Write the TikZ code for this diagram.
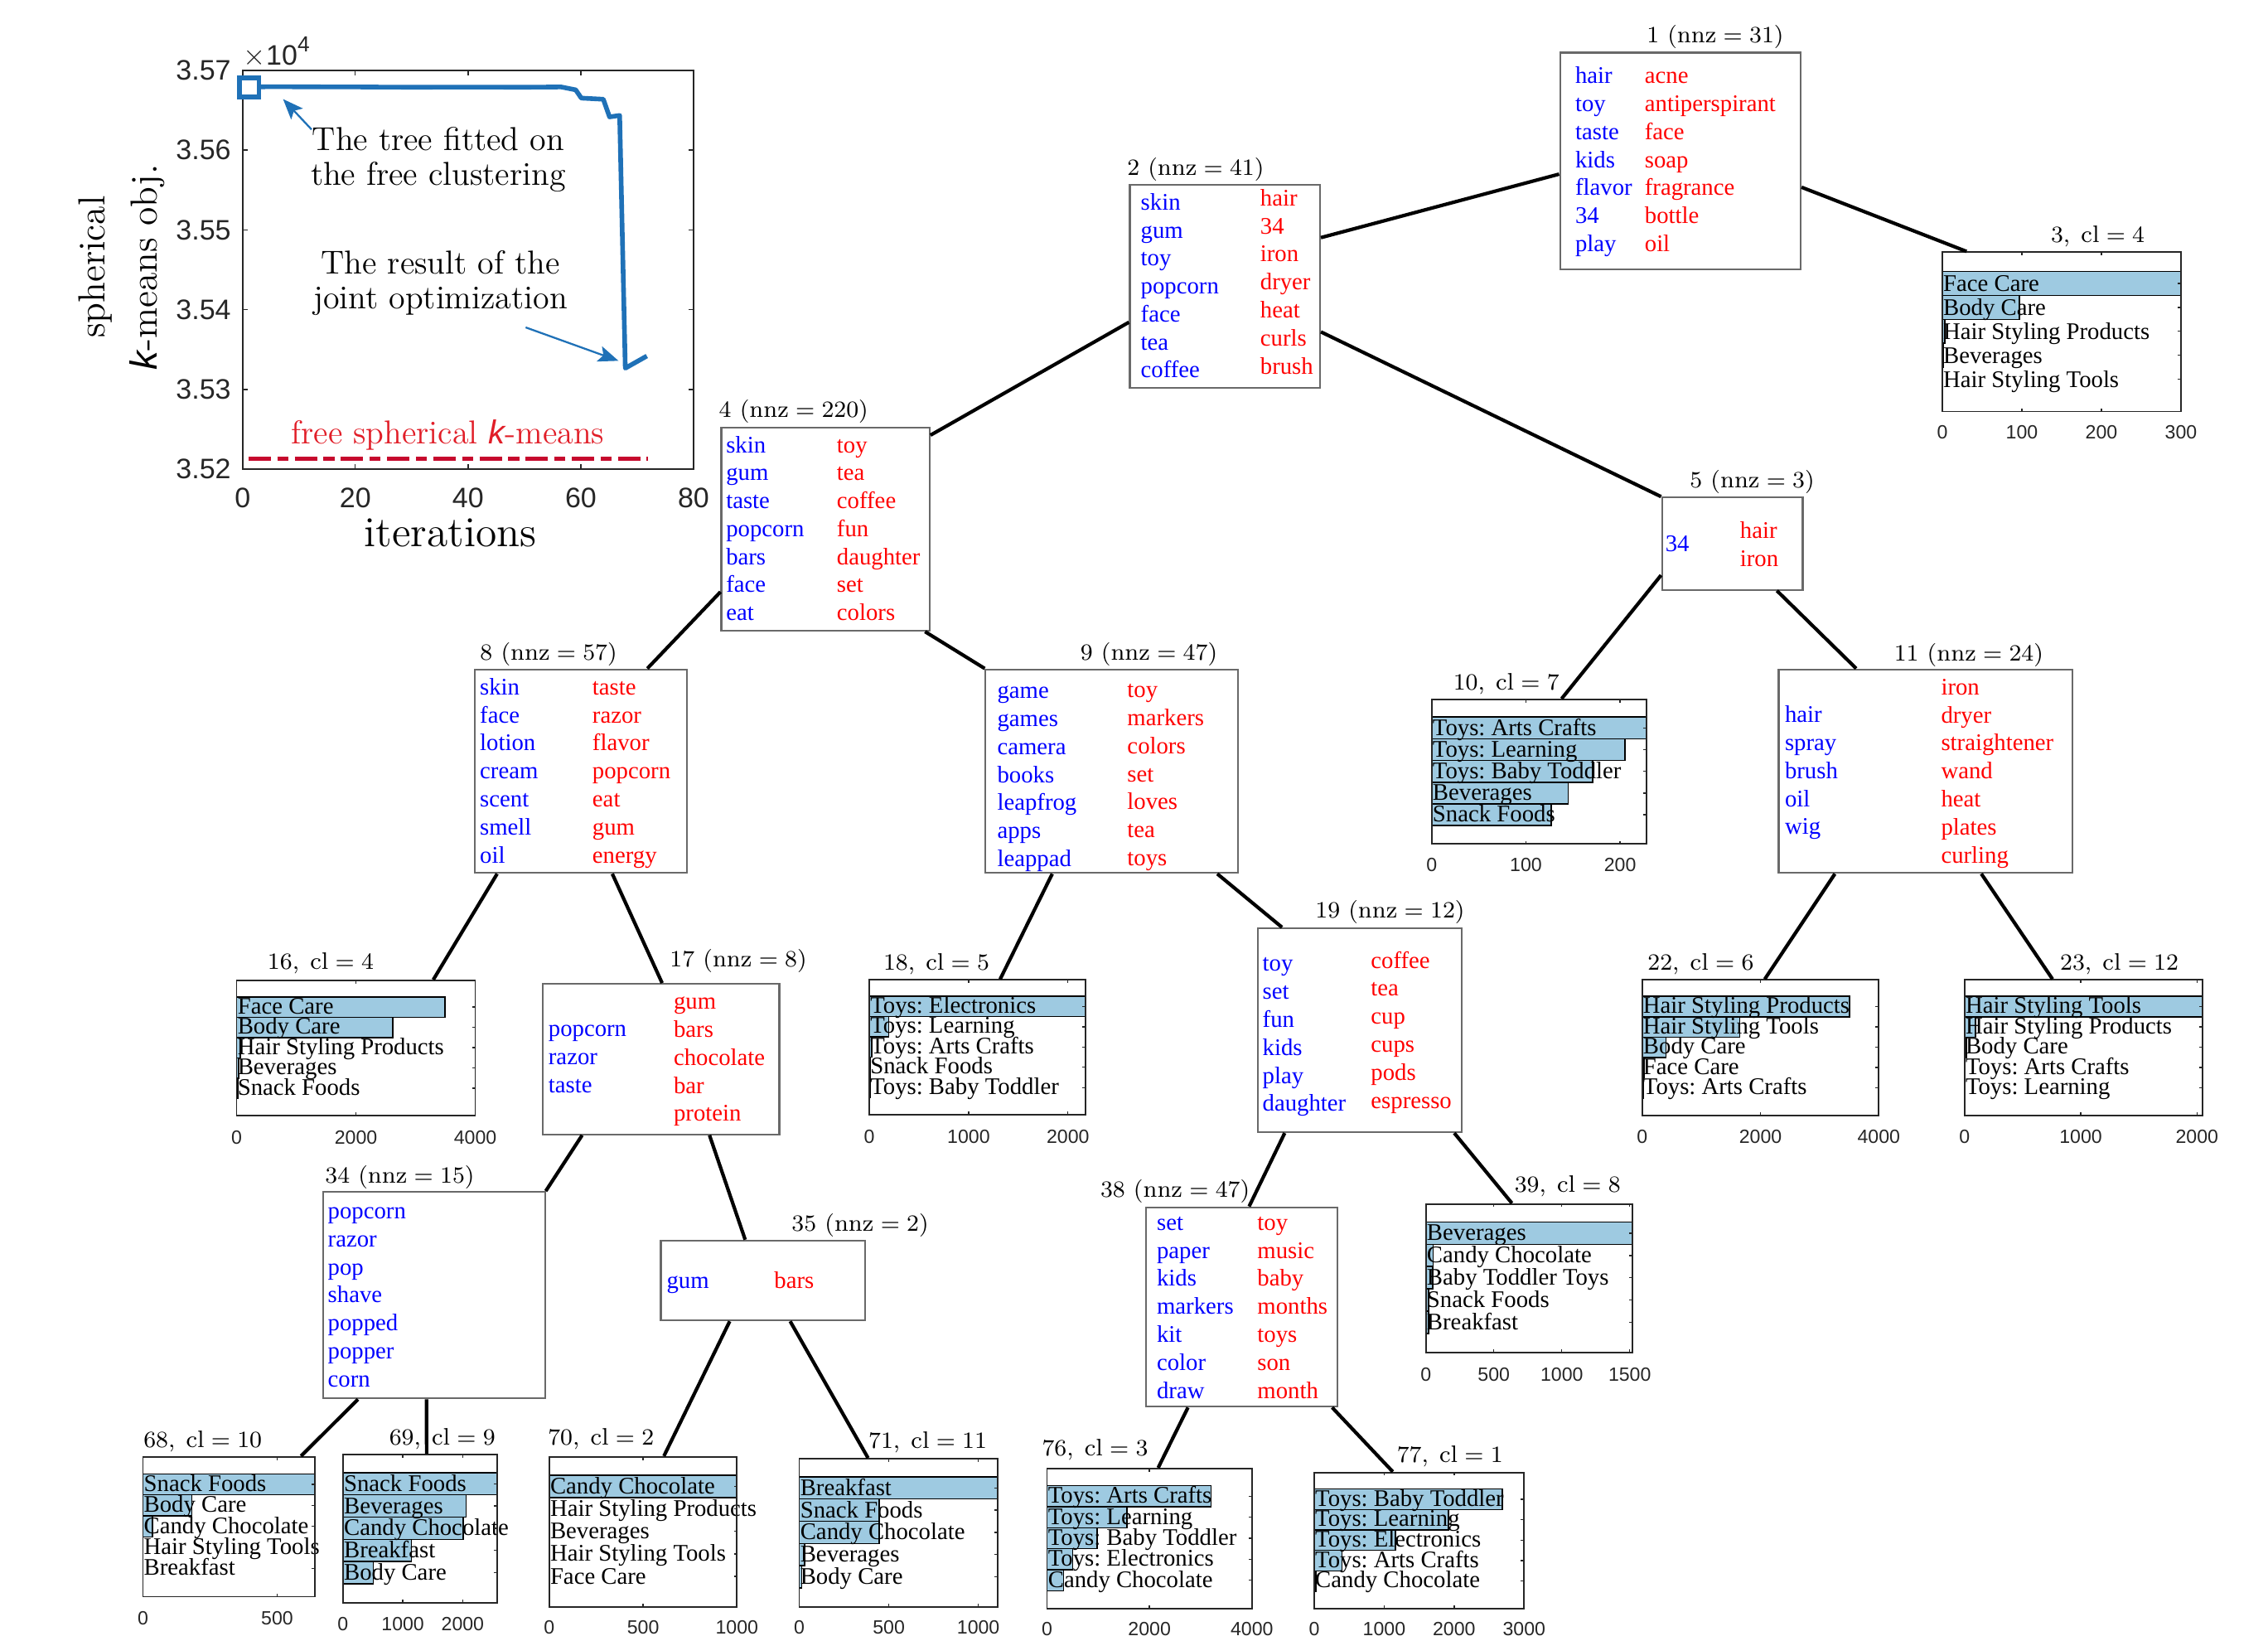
\documentclass[tikz,border=0pt]{standalone}
\usepackage{fontspec}
\newfontfamily\wfont{Liberation Serif}
\newfontfamily\tfont{Liberation Sans}
\usetikzlibrary{arrows.meta,fit,calc}
\frenchspacing
\definecolor{wblue}{RGB}{0,0,255}
\definecolor{wred}{RGB}{255,0,0}
\definecolor{boxgray}{RGB}{105,105,105}
\definecolor{axgray}{RGB}{38,38,38}
\definecolor{barblue}{RGB}{158,202,225}
\definecolor{pblue}{RGB}{31,113,183}
\definecolor{pred}{RGB}{198,10,45}
\definecolor{tred}{RGB}{225,30,40}
\tikzset{
 wboxst/.style={draw=boxgray, line width=0.6pt, inner sep=0pt},
 axbox/.style={draw=axgray, line width=0.5pt, inner sep=0pt},
 word/.style={font=\wfont\fontsize{8.2}{9}\selectfont, anchor=base west, inner sep=0pt},
 blbl/.style={font=\wfont\fontsize{8.2}{9}\selectfont\frenchspacing, anchor=base west, inner sep=0pt, text=black},
 lbl/.style={font=\fontsize{8.2}{10}\selectfont, inner sep=0pt},
 ticklbl/.style={font=\tfont\fontsize{6.6}{7}\selectfont, text=axgray, inner sep=0pt},
 plotlbl/.style={font=\tfont\fontsize{9.7}{10}\selectfont, text=axgray, inner sep=0pt},
 conn/.style={line width=1.2pt, black},
 bar/.style={fill=barblue, draw=black, line width=0.45pt},
 tk/.style={draw=axgray, line width=0.4pt},
 annarrow/.style={draw=pblue, line width=0.65pt, -{Stealth[length=7pt,width=5.5pt,inset=1.5pt]}},
 anntext/.style={font=\fontsize{11.4}{11.9}\selectfont, align=center, inner sep=0pt},
}
% chart: #1 name #2 L #3 T #4 R #5 B #6 xmax #7 ticks #8 tick label y #9 bars
\newcommand\chart[9]{%
 \foreach \v/\t [count=\i] in {#9} {%
   \pgfmathsetmacro\yc{#3+(0.197+0.15*(\i-1))*(#5-#3)}%
   \pgfmathsetmacro\hb{0.075*(#5-#3)}%
   \pgfmathsetmacro\xe{#2+\v/#6*(#4-#2)}%
   \draw[bar] (#2,\yc-\hb) rectangle (\xe,\yc+\hb);
 }
 \foreach \v/\t [count=\i] in {#9} {%
   \pgfmathsetmacro\yc{#3+(0.197+0.15*(\i-1))*(#5-#3)}%
   \pgfmathsetmacro\yb{\yc+0.05*(#5-#3)}%
   \node[blbl] (#1-c\i) at (#2+0.3,\yb) {\t};
   \draw[tk] (#4,\yc) -- ++(-2.2,0);
 }
 \node[axbox, fit={(#2,#3) (#4,#5)}] (#1) {};
 \foreach \tv [count=\j] in {#7} {%
   \pgfmathsetmacro\xt{#2+\tv/#6*(#4-#2)}%
   \draw[tk] (\xt,#3) -- ++(0,2.2) (\xt,#5) -- ++(0,-2.2);
   \node[ticklbl] (#1-x\j) at (\xt,#8) {\tv};
 }
}
\newcommand\wbox[5]{\node[wboxst, fit={(#2,#3) (#4,#5)}] (#1) {};}
\newcommand\wcol[5]{%
 \foreach \w [count=\i] in {#5} {\node[word, text=#4] (#1-\i) at (#2,{#3+(\i-1)*19.35}) {\w};}}
\newcommand\cl[2]{$#1,\;\mathrm{cl}=#2$}
\begin{document}
\begin{tikzpicture}[x={(0.0175cm,0)}, y={(0,-0.0175cm)}]
\fill[white] (0,0) rectangle (1568,1134);
\useasboundingbox (0,0) rectangle (1568,1134);

% ---------------- plot ----------------
\node[axbox, fit={(167.7,48.6) (479.5,324.3)}] (ax) {};
\foreach \xv [count=\j] in {0,20,40,60,80} {
 \pgfmathsetmacro\xt{167.7+\xv*3.8975}
 \draw[tk] (\xt,324.3) -- ++(0,-3.5) (\xt,48.6) -- ++(0,3.5);
 \node[plotlbl] (ax-x\j) at (\xt,344) {\xv};
}
\foreach \yv [count=\j] in {3.52,3.53,3.54,3.55,3.56,3.57} {
 \pgfmathsetmacro\yt{324.3-(\j-1)*55.14}
 \draw[tk] (167.7,\yt) -- ++(3.5,0) (479.5,\yt) -- ++(-3.5,0);
 \node[plotlbl, anchor=east] (ax-y\j) at (160,\yt) {\yv};
}
\node[plotlbl, anchor=base west] (mult) at (168,44.8) {$\times$10\raisebox{0.85ex}{\fontsize{7.5}{8}\selectfont 4}};
\node[font=\fontsize{14.7}{15}\selectfont, inner sep=0pt] (xlab) at (311.5,368.3) {iterations};
\node[font=\fontsize{13}{14}\selectfont, inner sep=0pt, rotate=90] (ylab1) at (65.8,184.6) {spherical};
\node[font=\fontsize{13}{14}\selectfont, inner sep=0pt, rotate=90] (ylab2) at (102,184.6) {{\tfont\itshape k}-means obj.};

\draw[pred, line width=1.5pt, dash pattern=on 7.7pt off 2.2pt on 3.8pt off 2.2pt] (171.8,317.1) -- (448,317.1);
\draw[pblue, line width=1.6pt, line join=round] (171.6,60.2) -- (187.2,59.9) -- (206.7,60.0) -- (245.6,60.1) -- (284.6,60.3) -- (323.6,60.2) -- (362.6,60.3) -- (387.9,60.1) -- (398.0,62.1) -- (401.9,67.8) -- (417.1,68.6) -- (421.4,80.8) -- (428.4,79.8) -- (432.3,254.5) -- (447.2,246.1);
\node[draw=pblue, fill=white, line width=1.6pt, minimum size=6.6pt, inner sep=0pt] (mk) at (172.3,60.4) {};

\node[anntext] (ann1) at (303,110.5) {The tree fitted on\\the free clustering};
\node[anntext] (ann2) at (304.5,195.7) {The result of the\\joint optimization};
\node[anntext, text=tred] (ann3) at (309.6,300.5) {free spherical {\tfont\itshape k}-means};
\coordinate (a1s) at (215.4,89.5);
\coordinate (a1e) at (195.7,68.5);
\coordinate (a2s) at (363.4,226.3);
\coordinate (a2e) at (427.6,249.4);
\draw[annarrow] (a1s) -- (a1e);
\draw[annarrow] (a2s) -- (a2e);

% ---------------- word nodes ----------------
\wbox{n1}{1078.5}{36.4}{1244.9}{186.2}
\node[lbl] (l1) at (1185.8,25.6) {$1\ (\mathrm{nnz}=31)$};
\wcol{n1b}{1088.7}{57.7}{wblue}{hair,toy,taste,kids,flavor,34,play}
\wcol{n1r}{1136.7}{57.7}{wred}{acne,antiperspirant,face,soap,fragrance,bottle,oil}

\wbox{n2}{781.1}{127.9}{912.6}{268.3}
\node[lbl] (l2) at (826.6,116.9) {$2\ (\mathrm{nnz}=41)$};
\wcol{n2b}{788.3}{145.1}{wblue}{skin,gum,toy,popcorn,face,tea,coffee}
\wcol{n2r}{870.9}{142.3}{wred}{hair,34,iron,dryer,heat,curls,brush}

\wbox{n4}{498.7}{295.6}{642.7}{436.0}
\node[lbl] (l4) at (548.7,284.5) {$4\ (\mathrm{nnz}=220)$};
\wcol{n4b}{501.6}{312.8}{wblue}{skin,gum,taste,popcorn,bars,face,eat}
\wcol{n4r}{578.2}{312.8}{wred}{toy,tea,coffee,fun,daughter,set,colors}

\wbox{n5}{1149.0}{343.9}{1246.3}{407.7}
\node[lbl] (l5) at (1211.4,333.2) {$5\ (\mathrm{nnz}=3)$};
\wcol{n5b}{1151}{381}{wblue}{34}
\wcol{n5r}{1202.6}{372}{wred}{hair,iron}

\wbox{n8}{328.5}{462.7}{475.0}{603.4}
\node[lbl] (l8) at (379.3,452.2) {$8\ (\mathrm{nnz}=57)$};
\wcol{n8b}{331.4}{480.3}{wblue}{skin,face,lotion,cream,scent,smell,oil}
\wcol{n8r}{409.2}{480.3}{wred}{taste,razor,flavor,popcorn,eat,gum,energy}

\wbox{n9}{681.4}{462.7}{855.7}{603.4}
\node[lbl] (l9) at (794.3,452.2) {$9\ (\mathrm{nnz}=47)$};
\wcol{n9b}{689.1}{482.8}{wblue}{game,games,camera,books,leapfrog,apps,leappad}
\wcol{n9r}{779.0}{482.3}{wred}{toy,markers,colors,set,loves,tea,toys}

\wbox{n11}{1229.7}{462.7}{1433.0}{603.4}
\node[lbl] (l11) at (1361.1,452.6) {$11\ (\mathrm{nnz}=24)$};
\wcol{n11b}{1233.6}{499.4}{wblue}{hair,spray,brush,oil,wig}
\wcol{n11r}{1341.6}{480.3}{wred}{iron,dryer,straightener,wand,heat,plates,curling}

\wbox{n17}{375.4}{680.1}{538.8}{784.1}
\node[lbl] (l17) at (510.5,664.3) {$17\ (\mathrm{nnz}=8)$};
\wcol{n17b}{378.8}{716.5}{wblue}{popcorn,razor,taste}
\wcol{n17r}{465.4}{697.7}{wred}{gum,bars,chocolate,bar,protein}

\wbox{n19}{869.6}{641.6}{1010.5}{782.6}
\node[lbl] (l19) at (961,630.6) {$19\ (\mathrm{nnz}=12)$};
\wcol{n19b}{872.5}{671.4}{wblue}{toy,set,fun,kids,play,daughter}
\wcol{n19r}{947.4}{669.2}{wred}{coffee,tea,cup,cups,pods,espresso}

\wbox{n34}{223.2}{823.9}{376.7}{966.6}
\node[lbl] (l34) at (276.4,813.7) {$34\ (\mathrm{nnz}=15)$};
\wcol{n34b}{226.3}{842.4}{wblue}{popcorn,razor,pop,shave,popped,popper,corn}

\wbox{n35}{456.9}{857.5}{598.3}{912.7}
\node[lbl] (l35) at (594.7,847.1) {$35\ (\mathrm{nnz}=2)$};
\wcol{n35b}{460.5}{890.4}{wblue}{gum}
\wcol{n35r}{534.9}{890.4}{wred}{bars}

\wbox{n38}{792.2}{834.5}{924.8}{972.3}
\node[lbl] (l38) at (812.4,823.3) {$38\ (\mathrm{nnz}=47)$};
\wcol{n38b}{799.4}{850.4}{wblue}{set,paper,kids,markers,kit,color,draw}
\wcol{n38r}{868.9}{850.4}{wred}{toy,music,baby,months,toys,son,month}

% ---------------- charts ----------------
\chart{c3}{1342.8}{174.3}{1507.8}{284.4}{300}{0,100,200,300}{298.7}{300/Face Care,97/Body Care,3/Hair Styling Products,1/Beverages,0.5/Hair Styling Tools}
\node[lbl] (l3) at (1450.3,163.7) {\cl{3}{4}};

\chart{c10}{989.8}{483.5}{1138.3}{583.4}{228}{0,100,200}{597.7}{228/Toys: Arts Crafts,205/Toys: Learning,171/Toys: Baby Toddler,145/Beverages,127/Snack Foods}
\node[lbl] (l10) at (1041.4,472.6) {\cl{10}{7}};

\chart{c16}{163.6}{677.7}{328.6}{771.2}{4000}{0,2000,4000}{786.1}{3491/Face Care,2617/Body Care,62/Hair Styling Products,31/Beverages,19/Snack Foods}
\node[lbl] (l16) at (221.7,665.8) {\cl{16}{4}};

\chart{c18}{601.0}{677.3}{750.6}{770.7}{2179}{0,1000,2000}{785.9}{2179/Toys: Electronics,196/Toys: Learning,26/Toys: Arts Crafts,9/Snack Foods,9/Toys: Baby Toddler}
\node[lbl] (l18) at (647.4,666.3) {\cl{18}{5}};

\chart{c22}{1135.3}{677.3}{1298.9}{771.0}{4000}{0,2000,4000}{785.8}{3502/Hair Styling Products,1649/Hair Styling Tools,400/Body Care,28/Face Care,21/Toys: Arts Crafts}
\node[lbl] (l22) at (1175.8,666.5) {\cl{22}{6}};

\chart{c23}{1358.2}{677.3}{1522.9}{771.0}{2050}{0,1000,2000}{785.8}{2050/Hair Styling Tools,96/Hair Styling Products,14/Body Care,0/Toys: Arts Crafts,0/Toys: Learning}
\node[lbl] (l23) at (1465.2,666.5) {\cl{23}{12}};

\chart{c39}{985.8}{832.2}{1128.6}{934.8}{1520}{0,500,1000,1500}{950.1}{1520/Beverages,53/Candy Chocolate,50/Baby Toddler Toys,20/Snack Foods,20/Breakfast}
\node[lbl] (l39) at (1083.8,820.2) {\cl{39}{8}};

\chart{c68}{98.8}{1007}{217.8}{1103.7}{641}{0,500}{1118.8}{641/Snack Foods,182/Body Care,35/Candy Chocolate,0/Hair Styling Tools,0/Breakfast}
\node[lbl] (l68) at (140.2,996.3) {\cl{68}{10}};

\chart{c69}{237.1}{1005.4}{343.6}{1107.9}{2573}{0,1000,2000}{1122.8}{2573/Snack Foods,2058/Beverages,2010/Candy Chocolate,1146/Breakfast,505/Body Care}
\node[lbl] (l69) at (305.8,994.5) {\cl{69}{9}};

\chart{c70}{379.7}{1007}{509.5}{1110.7}{1000}{0,500,1000}{1125}{1000/Candy Chocolate,0/Hair Styling Products,0/Beverages,0/Hair Styling Tools,0/Face Care}
\node[lbl] (l70) at (415.5,994.5) {\cl{70}{2}};

\chart{c71}{552.6}{1008.3}{689.6}{1110.7}{1107}{0,500,1000}{1125}{1107/Breakfast,445/Snack Foods,445/Candy Chocolate,29/Beverages,13/Body Care}
\node[lbl] (l71) at (641.4,996.7) {\cl{71}{11}};

\chart{c76}{723.9}{1015.1}{865.5}{1112.0}{4000}{0,2000,4000}{1126.3}{3202/Toys: Arts Crafts,1561/Toys: Learning,974/Toys: Baby Toddler,500/Toys: Electronics,325/Candy Chocolate}
\node[lbl] (l76) at (757.1,1002.4) {\cl{76}{3}};

\chart{c77}{908.6}{1017.8}{1053.7}{1112.0}{3000}{0,1000,2000,3000}{1126.3}{2688/Toys: Baby Toddler,1916/Toys: Learning,1158/Toys: Electronics,399/Toys: Arts Crafts,26/Candy Chocolate}
\node[lbl] (l77) at (1002.4,1006.6) {\cl{77}{1}};

% ---------------- connectors ----------------
\draw[conn] ($(n1.north west)!0.560!(n1.south west)$) -- ($(n2.north east)!0.261!(n2.south east)$);
\draw[conn] ($(n1.north east)!0.620!(n1.south east)$) -- ($(c3.north west)!0.104!(c3.north east)$);
\draw[conn] ($(n2.north west)!0.674!(n2.south west)$) -- ($(n4.north east)!0.041!(n4.south east)$);
\draw[conn] ($(n2.north east)!0.721!(n2.south east)$) -- (n5.north west);
\draw[conn] ($(n4.north west)!0.806!(n4.south west)$) -- ($(n8.north west)!0.810!(n8.north east)$);
\draw[conn] ($(n4.south west)!0.974!(n4.south east)$) -- (n9.north west);
\draw[conn] ($(n5.north west)!0.835!(n5.south west)$) -- ($(c10.north west)!0.604!(c10.north east)$);
\draw[conn] ($(n5.south west)!0.813!(n5.south east)$) -- ($(n11.north west)!0.265!(n11.north east)$);
\draw[conn] ($(n8.south west)!0.107!(n8.south east)$) -- ($(c16.north west)!0.822!(c16.north east)$);
\draw[conn] ($(n8.south west)!0.646!(n8.south east)$) -- ($(n17.north west)!0.504!(n17.north east)$);
\draw[conn] ($(n9.south west)!0.266!(n9.south east)$) -- ($(c18.north west)!0.604!(c18.north east)$);
\draw[conn] ($(n9.south west)!0.916!(n9.south east)$) -- ($(n19.north west)!0.122!(n19.north east)$);
\draw[conn] ($(n11.south west)!0.193!(n11.south east)$) -- ($(c22.north west)!0.518!(c22.north east)$);
\draw[conn] ($(n11.south west)!0.688!(n11.south east)$) -- ($(c23.north west)!0.370!(c23.north east)$);
\draw[conn] ($(n17.south west)!0.168!(n17.south east)$) -- (n34.north east);
\draw[conn] ($(n17.south west)!0.703!(n17.south east)$) -- ($(n35.north west)!0.413!(n35.north east)$);
\draw[conn] ($(n19.south west)!0.135!(n19.south east)$) -- ($(n38.north west)!0.538!(n38.north east)$);
\draw[conn] ($(n19.south west)!0.960!(n19.south east)$) -- ($(c39.north west)!0.417!(c39.north east)$);
\draw[conn] ($(n34.south west)!0.161!(n34.south east)$) -- ($(c68.north west)!0.915!(c68.north east)$);
\draw[conn] ($(n34.south west)!0.467!(n34.south east)$) -- ($(c69.north west)!0.543!(c69.north east)$);
\draw[conn] ($(n35.south west)!0.338!(n35.south east)$) -- ($(c70.north west)!0.610!(c70.north east)$);
\draw[conn] ($(n35.south west)!0.631!(n35.south east)$) -- ($(c71.north west)!0.348!(c71.north east)$);
\draw[conn] ($(n38.south west)!0.222!(n38.south east)$) -- ($(c76.north west)!0.542!(c76.north east)$);
\draw[conn] ($(n38.south west)!0.967!(n38.south east)$) -- ($(c77.north west)!0.375!(c77.north east)$);
\end{tikzpicture}
\end{document}
